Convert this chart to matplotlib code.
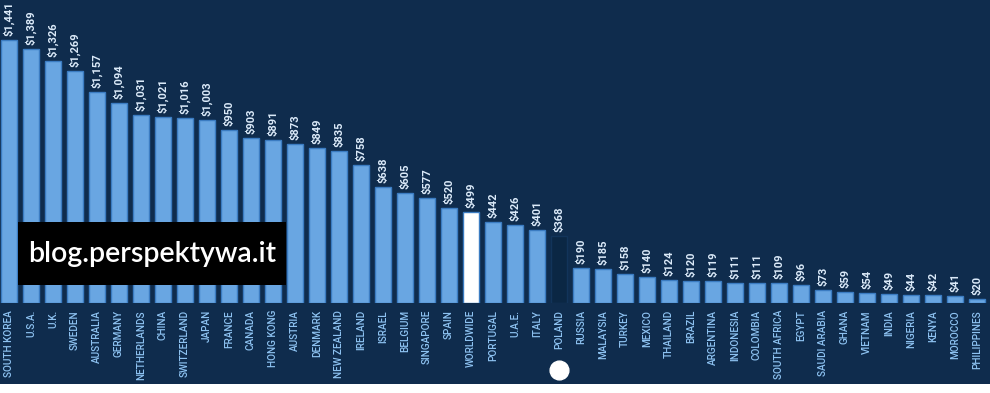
import numpy as np
import matplotlib
matplotlib.use("Agg")
import matplotlib.pyplot as plt
from matplotlib.patches import Rectangle

countries = ["SOUTH KOREA", "U.S.A.", "U.K.", "SWEDEN", "AUSTRALIA", "GERMANY",
             "NETHERLANDS", "CHINA", "SWITZERLAND", "JAPAN", "FRANCE", "CANADA",
             "HONG KONG", "AUSTRIA", "DENMARK", "NEW ZEALAND", "IRELAND", "ISRAEL",
             "BELGIUM", "SINGAPORE", "SPAIN", "WORLDWIDE", "PORTUGAL", "U.A.E.",
             "ITALY", "POLAND", "RUSSIA", "MALAYSIA", "TURKEY", "MEXICO", "THAILAND",
             "BRAZIL", "ARGENTINA", "INDONESIA", "COLOMBIA", "SOUTH AFRICA", "EGYPT",
             "SAUDI ARABIA", "GHANA", "VIETNAM", "INDIA", "NIGERIA", "KENYA",
             "MOROCCO", "PHILIPPINES"]
values = [1441, 1389, 1326, 1269, 1157, 1094, 1031, 1021, 1016, 1003, 950, 903,
          891, 873, 849, 835, 758, 638, 605, 577, 520, 499, 442, 426, 401, 368,
          190, 185, 158, 140, 124, 120, 119, 111, 111, 109, 96, 73, 59, 54, 49,
          44, 42, 41, 20]
highlight_white = "WORLDWIDE"
highlight_dark = "POLAND"

navy = "#0f2c4d"
bar_blue = "#69a6e2"
edge_blue = "#3b7cc2"
cat_blue = "#8ec3f2"

W, H = 990, 393
fig = plt.figure(figsize=(W / 100, H / 100), dpi=100, facecolor="white")
fig.add_artist(Rectangle((0, 9 / H), 1, 1 - 9 / H, transform=fig.transFigure,
                         facecolor=navy, edgecolor="none", zorder=0))

base_px = 303
ax = fig.add_axes([0, (H - base_px) / H, 1, base_px / H])
ax.set_facecolor("none")
ymax = 1660
ax.set_ylim(0, ymax)
ax.set_xlim(-9 / 22, (W - 9) / 22)
ax.axis("off")

x = np.arange(len(countries))
colors = []
edges = []
for c in countries:
    if c == highlight_white:
        colors.append("white")
        edges.append(edge_blue)
    elif c == highlight_dark:
        colors.append("#0b2744")
        edges.append("#12345a")
    else:
        colors.append(bar_blue)
        edges.append(edge_blue)
ax.bar(x, values, width=0.7, color=colors, edgecolor=edges, linewidth=1.0)

px = ymax / base_px
for xi, v, c in zip(x, values, countries):
    ax.text(xi, v + 4 * px, "${:,}".format(v), rotation=90, ha="center", va="bottom",
            color="#dcebfa", fontsize=8, fontweight="bold", family="Roboto",
            clip_on=False)
    ax.text(xi, -7 * px, c, rotation=90, ha="center", va="top", color=cat_blue,
            fontsize=7.2, fontweight="medium", family="Roboto", clip_on=False)

# marker under Poland
pi = countries.index(highlight_dark)
ax.plot([pi], [-67 * px], marker="o", ms=13.5, color="white", mec="white",
        clip_on=False)

# watermark
fig.add_artist(Rectangle((18 / W, (H - 285) / H), 268 / W, 63 / H,
                         transform=fig.transFigure, facecolor="black",
                         edgecolor="none", zorder=5))
fig.text(152 / W, (H - 254) / H, "blog.perspektywa.it", color="white",
         fontsize=20.5, fontweight="semibold", family="Lato", ha="center",
         va="center", zorder=6)

fig.savefig("out.png", dpi=100, facecolor="white")
